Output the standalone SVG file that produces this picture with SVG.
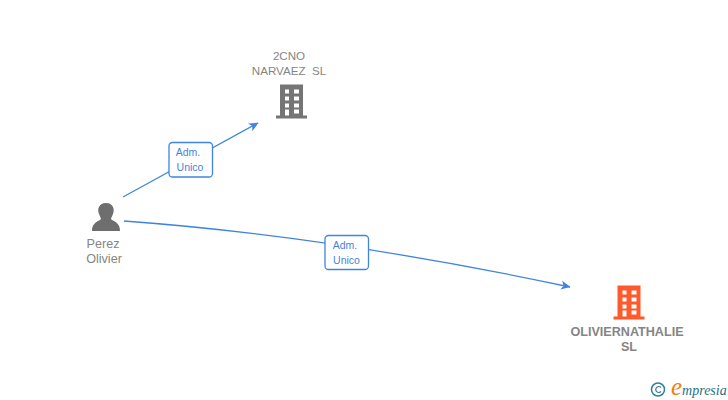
<svg xmlns="http://www.w3.org/2000/svg" width="728" height="400" viewBox="0 0 728 400">
<style>
.lbl{font-family:"Liberation Sans",Arial,sans-serif;font-size:11.6px;fill:#858585;text-anchor:middle}
.lb2{font-family:"Liberation Sans",Arial,sans-serif;font-size:12.6px;fill:#858585;text-anchor:middle}
.bold{font-weight:bold}
.edge{fill:none;stroke:#3f85e0;stroke-width:1.3}
.box{fill:#fff;stroke:#3f85e0;stroke-width:1.3}
.et{font-family:"Liberation Sans",Arial,sans-serif;font-size:10.500px;fill:#3f85e0;text-anchor:middle}
</style>
<defs>
<marker id="arr" markerUnits="userSpaceOnUse" markerWidth="12" markerHeight="10" refX="9" refY="5" orient="auto">
<path d="M0 0.5L9.500 5L0 9.500L2.500 5Z" fill="#3f85e0"/>
</marker>
<g id="bld">
<path fill-rule="evenodd" d="M4 0H27V31H31V34H0V31H4ZM9 5V9H13V5ZM18 5V9H23V5ZM9 12V16H13V12ZM18 12V16H23V12ZM9 19V23H13V19ZM18 19V23H23V19ZM9 25V31H13V25ZM18 25V29H23V25Z"/>
</g>
</defs>
<g id="connectors">
<path class="edge" marker-end="url(#arr)" d="M123 197L258 123"/>
<path class="edge" marker-end="url(#arr)" d="M124 221Q330 236 570 287"/>
</g>
<g id="edge-label-1">
<rect class="box" x="169" y="142.500" width="43.500" height="34.500" rx="3.500"/>
<text class="et" x="188" y="156">Adm.</text>
<text class="et" x="190" y="171">Unico</text>
</g>
<g id="edge-label-2">
<rect class="box" x="325" y="235.500" width="43.500" height="34" rx="3.500"/>
<text class="et" x="345" y="249">Adm.</text>
<text class="et" x="346.500" y="264">Unico</text>
</g>
<g id="node-2cno">
<text class="lbl" x="289" y="60">2CNO</text>
<text class="lbl" x="289" y="75" xml:space="preserve">NARVAEZ  SL</text>
<use href="#bld" x="276" y="84.500" fill="#757575"/>
</g>
<g id="node-perez">
<path fill="#6e6e6e" d="M92 231C92 224 96 222 100 220C102 219 100 217 99 214C97 209 99 203 106 203C113 203 115 209 113 214C112 217 110 219 112 220C116 222 120 224 120 231Z"/>
<text class="lb2" x="103" y="248">Perez</text>
<text class="lb2" x="104" y="263">Olivier</text>
</g>
<g id="node-olivier">
<use href="#bld" x="613.500" y="285.500" fill="#ff5a2c"/>
<text class="lb2 bold" x="627" y="336">OLIVIERNATHALIE</text>
<text class="lb2 bold" x="629" y="351">SL</text>
</g>
<g id="watermark">
<circle cx="658" cy="389.500" r="6.500" fill="none" stroke="#2f7f96" stroke-width="1.500"/>
<path d="M661 387.500A3 3 0 1 0 661 391.500" fill="none" stroke="#2f7f96" stroke-width="1.200"/>
<text x="671" y="395" font-family="'Liberation Serif',serif" font-style="italic" font-size="14" fill="#1f6f86"><tspan font-size="25" fill="#f08010">e</tspan>mpresia</text>
</g>
</svg>
